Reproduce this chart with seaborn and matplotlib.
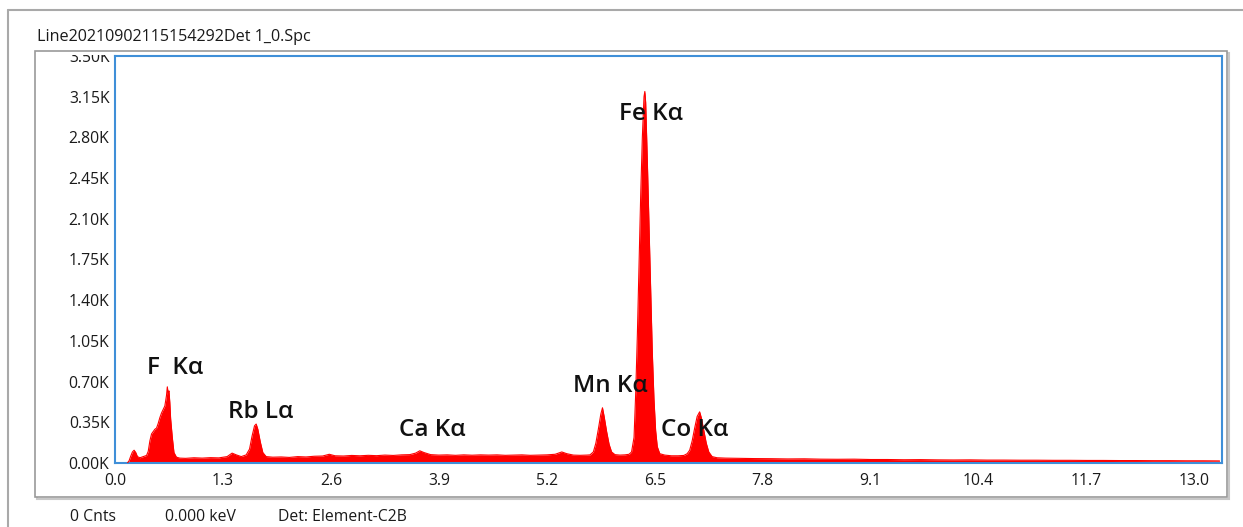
import matplotlib
matplotlib.use("Agg")
import matplotlib.pyplot as plt
import seaborn as sns
import pandas as pd
from matplotlib.patches import Rectangle
from matplotlib.lines import Line2D
from matplotlib.transforms import Bbox, TransformedBbox

# ---------------- data ----------------
energy_kev = [
    0.15, 0.17, 0.19, 0.21, 0.23, 0.25, 0.27, 0.30, 0.34, 0.38,
    0.40, 0.42, 0.44, 0.46, 0.48, 0.50, 0.52, 0.54, 0.56, 0.58,
    0.60, 0.62, 0.63, 0.64, 0.65, 0.66, 0.67, 0.69, 0.71, 0.74,
    0.78, 0.85, 0.95, 1.05, 1.15, 1.25, 1.35, 1.41, 1.46, 1.52,
    1.58, 1.62, 1.65, 1.68, 1.70, 1.72, 1.75, 1.78, 1.82, 1.90,
    2.00, 2.10, 2.20, 2.30, 2.40, 2.50, 2.58, 2.65, 2.75, 2.85,
    2.95, 3.05, 3.15, 3.25, 3.35, 3.45, 3.55, 3.62, 3.67, 3.72,
    3.80, 3.90, 4.00, 4.10, 4.20, 4.30, 4.40, 4.50, 4.60, 4.70,
    4.80, 4.90, 5.00, 5.10, 5.20, 5.30, 5.38, 5.44, 5.52, 5.60,
    5.68, 5.72, 5.76, 5.79, 5.82, 5.85, 5.87, 5.89, 5.92, 5.95,
    5.98, 6.02, 6.08, 6.14, 6.19, 6.22, 6.25, 6.27, 6.29, 6.31,
    6.33, 6.35, 6.37, 6.38, 6.39, 6.41, 6.43, 6.45, 6.47, 6.49,
    6.51, 6.53, 6.56, 6.62, 6.70, 6.78, 6.85, 6.89, 6.92, 6.95,
    6.98, 7.01, 7.04, 7.06, 7.09, 7.12, 7.15, 7.19, 7.25, 7.35,
    7.50, 7.70, 7.90, 8.10, 8.30, 8.50, 8.70, 8.90, 9.10, 9.30,
    9.50, 9.70, 9.90, 10.10, 10.30, 10.50, 10.70, 10.90, 11.10, 11.30,
    11.50, 11.70, 11.90, 12.10, 12.30, 12.50, 12.70, 12.90, 13.10, 13.30,
]
counts = [
    0, 20, 60, 95, 110, 90, 55, 45, 55, 65,
    100, 190, 250, 270, 290, 300, 340, 390, 430, 460,
    490, 580, 655, 600, 620, 520, 380, 220, 90, 50,
    42, 40, 45, 42, 46, 44, 55, 85, 70, 55,
    70, 120, 230, 320, 335, 290, 180, 90, 55, 50,
    52, 48, 55, 52, 58, 60, 75, 62, 60, 65,
    62, 66, 63, 68, 65, 70, 72, 85, 105, 90,
    72, 68, 70, 66, 70, 67, 70, 68, 70, 66,
    68, 70, 66, 68, 70, 75, 95, 80, 68, 66,
    68, 70, 95, 170, 290, 420, 475, 400, 270, 160,
    95, 72, 68, 70, 75, 95, 220, 600, 1100, 1700,
    2300, 2800, 3150, 3195, 3100, 2600, 2050, 1500, 950, 550,
    280, 140, 80, 68, 62, 62, 65, 80, 110, 190,
    300, 400, 440, 390, 280, 170, 95, 55, 45, 42,
    40, 38, 37, 35, 36, 33, 32, 33, 30, 30,
    28, 29, 27, 26, 27, 25, 25, 24, 24, 23,
    23, 22, 22, 21, 21, 20, 20, 19, 19, 18,
]
peak_labels = ["F  K\u03b1", "Rb L\u03b1", "Ca K\u03b1", "Mn K\u03b1", "Fe K\u03b1", "Co K\u03b1"]
peak_label_x = [0.72, 1.75, 3.82, 5.96, 6.46, 6.98]
peak_label_y = [818, 440, 285, 663, 3005, 285]
y_ticks = [0, 350, 700, 1050, 1400, 1750, 2100, 2450, 2800, 3150, 3500]
x_ticks = [0.0, 1.3, 2.6, 3.9, 5.2, 6.5, 7.8, 9.1, 10.4, 11.7, 13.0]
title_text = "Line20210902115154292Det 1_0.Spc"
status_texts = ["0 Cnts", "0.000 keV", "Det: Element-C2B"]

df = pd.DataFrame({"keV": energy_kev, "Cnts": counts})

# ---------------- figure ----------------
sns.set_theme(style="white")
plt.rcParams["font.family"] = ["Open Sans", "DejaVu Sans"]

W, H = 1243, 527
fig = plt.figure(figsize=(W / 100, H / 100), dpi=100)
fig.patch.set_facecolor("white")

def fx(px):
    return px / W

def fy(py):
    return 1 - py / H

# outer window frame
fig.add_artist(Line2D([fx(8), 1.0], [fy(10), fy(10)], color="#a9a9a9", lw=1.5, zorder=-3))
fig.add_artist(Line2D([fx(8), fx(8)], [fy(10), 0.0], color="#a9a9a9", lw=1.5, zorder=-3))

# panel box with slight shadow
fig.add_artist(Rectangle((fx(37), fy(499)), fx(1229) - fx(37), fy(53) - fy(499),
                         transform=fig.transFigure, facecolor="none",
                         edgecolor="#c8c8c8", lw=1.5, zorder=-2))
fig.add_artist(Rectangle((fx(35), fy(497)), fx(1227) - fx(35), fy(51) - fy(497),
                         transform=fig.transFigure, facecolor="white",
                         edgecolor="#9a9a9a", lw=1.2, zorder=-1))

ax = fig.add_axes([fx(115), fy(463), fx(1222) - fx(115), fy(56) - fy(463)])
ax.set_facecolor("white")
ax.set_zorder(1)

sns.lineplot(data=df, x="keV", y="Cnts", ax=ax, color="#ff0000", lw=0.8, zorder=3)
ax.fill_between(df["keV"], 0, df["Cnts"], color="#ff0000", lw=0, zorder=2)

ax.set_xlim(0, 13.33)
ax.set_ylim(0, 3500)
ax.set_xticks(x_ticks)
ax.set_xticklabels([f"{v:.1f}" for v in x_ticks])
ax.set_yticks(y_ticks)
ax.set_yticklabels([f"{v/1000:.2f}K" for v in y_ticks])
ax.set_xlabel("")
ax.set_ylabel("")

blue = "#3f8fd8"
for s in ax.spines.values():
    s.set_color(blue)
    s.set_linewidth(1.5)
    s.set_visible(True)

ax.tick_params(axis="both", which="major", length=3, width=1, color="#777777",
               labelsize=11.3, labelcolor="#1a1a1a", direction="out")
ax.tick_params(axis="y", pad=1)
ax.tick_params(axis="x", pad=4)

# clip y tick labels to the panel (top one is cut off in the reference)
clipbox = TransformedBbox(Bbox([[0, 0], [1, fy(55)]]), fig.transFigure)
for lab in ax.get_yticklabels():
    lab.set_clip_on(True)
    lab.set_clip_box(clipbox)

for txt, x, y in zip(peak_labels, peak_label_x, peak_label_y):
    ax.text(x, y, txt, ha="center", va="center", fontsize=17.5,
            fontweight="semibold", color="#111111", zorder=5)

fig.text(fx(37), fy(37), title_text, ha="left", va="center", fontsize=11.6, color="#1a1a1a")
for txt, px in zip(status_texts, [70, 165, 278]):
    fig.text(fx(px), fy(517), txt, ha="left", va="center", fontsize=11.3, color="#1a1a1a")

fig.savefig("out.png", dpi=100, facecolor="white")
